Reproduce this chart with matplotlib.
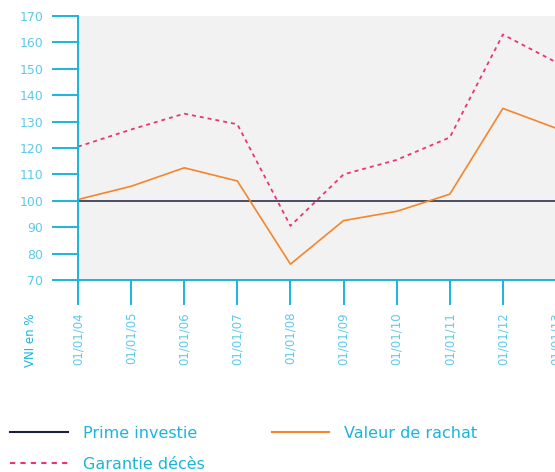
import matplotlib.pyplot as plt
from matplotlib.lines import Line2D

dates = ["01/01/04", "01/01/05", "01/01/06", "01/01/07", "01/01/08",
         "01/01/09", "01/01/10", "01/01/11", "01/01/12", "01/01/13"]
prime = [100, 100, 100, 100, 100, 100, 100, 100, 100, 100]
rachat = [100.5, 105.5, 112.5, 107.5, 76, 92.5, 96, 102.5, 135, 127.5]
garantie = [120.5, 127, 133, 129, 90.5, 110, 115.5, 124, 163, 152.5]
yticks = [70, 80, 90, 100, 110, 120, 130, 140, 150, 160, 170]

cyan = "#1ab4de"
light = "#5ec9ea"
navy = "#1c1f3d"
orange = "#f5862b"
pink = "#e8347c"

fig = plt.figure(figsize=(5.55, 4.72), dpi=100)
ax = fig.add_axes([78 / 555, 1 - 280 / 472, 478 / 555, 264 / 472])
ax.set_facecolor("#f2f2f2")

x = list(range(len(dates)))
ax.plot(x, prime, color=navy, lw=1.1, clip_on=False)
ax.plot(x, rachat, color=orange, lw=1.2)
ax.plot(x, garantie, color=pink, lw=1.3, dashes=(2.2, 2.2))

ax.set_xlim(0, 9)
ax.set_ylim(70, 170)
ax.set_xticks(x)
ax.set_xticklabels(dates, rotation=90, color=light, fontsize=8.5)
ax.set_yticks(yticks)
ax.set_yticklabels([str(v) for v in yticks], color=light, fontsize=9)
ax.tick_params(axis="both", direction="out", color=cyan, width=1.4, length=19, pad=6)
ax.tick_params(axis="x", length=18, pad=5)

for s in ["top", "right"]:
    ax.spines[s].set_visible(False)
for s in ["left", "bottom"]:
    ax.spines[s].set_color(cyan)
    ax.spines[s].set_linewidth(1.4)

fig.text(30 / 555, 1 - 340 / 472, "VNI en %", rotation=90, color=cyan,
         fontsize=8.5, fontweight="medium", ha="center", va="center")

handles = [Line2D([], [], color=navy, lw=1.5),
           Line2D([], [], color=pink, lw=1.5, dashes=(2.5, 2.5)),
           Line2D([], [], color=orange, lw=1.5)]
labels = ["Prime investie", "Garantie décès", "Valeur de rachat"]
leg = fig.legend(handles, labels, ncol=2, loc="upper left",
                 bbox_to_anchor=(10 / 555, 1 - 426 / 472), frameon=False,
                 fontsize=11.5, handlelength=3.6, handletextpad=0.95,
                 columnspacing=4.2, labelspacing=1.0, borderpad=0,
                 borderaxespad=0)
for t in leg.get_texts():
    t.set_color(cyan)

fig.savefig("out.png", dpi=100)
